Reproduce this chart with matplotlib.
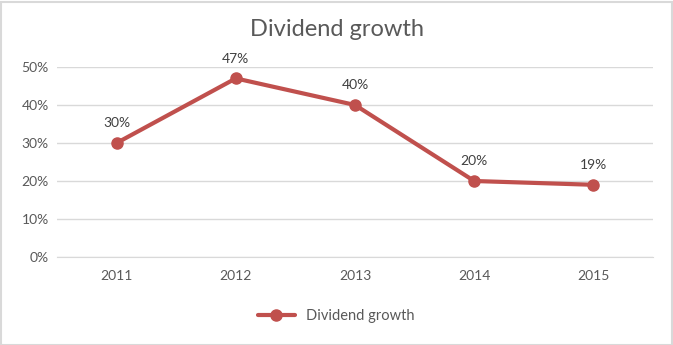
import matplotlib
matplotlib.use("Agg")
import matplotlib.pyplot as plt
from matplotlib.ticker import FuncFormatter

years = ["2011", "2012", "2013", "2014", "2015"]
growth = [30, 47, 40, 20, 19]
yticks = [0, 10, 20, 30, 40, 50]
series_name = "Dividend growth"
title = "Dividend growth"

plt.rcParams['font.family'] = ['Lato', 'DejaVu Sans']

fig = plt.figure(figsize=(6.73, 3.45), dpi=100)
fig.patch.set_facecolor('white')
ax = fig.add_axes([57/673, 88/345, (653-57)/673, (278-88)/345])

color = '#C0504D'
x = list(range(len(years)))
ax.plot(x, growth, color=color, linewidth=3, marker='o', markersize=8,
        label=series_name, solid_capstyle='round', zorder=3)
for xi, v in zip(x, growth):
    ax.annotate(f"{v}%", (xi, v), xytext=(0, 10), textcoords='offset points',
                ha='center', va='bottom', fontsize=10, color='#404040')

ax.set_xlim(-0.5, len(years) - 0.5)
ax.set_ylim(0, 50)
ax.set_yticks(yticks)
ax.yaxis.set_major_formatter(FuncFormatter(lambda v, p: f"{int(v)}%"))
ax.set_xticks(x)
ax.set_xticklabels(years)
ax.grid(axis='y', color='#D9D9D9', linewidth=1)
ax.set_axisbelow(True)
for s in ax.spines.values():
    s.set_visible(False)
ax.spines['bottom'].set_visible(True)
ax.spines['bottom'].set_color('#D9D9D9')
ax.tick_params(axis='both', length=0, labelsize=10, labelcolor='#595959')
ax.tick_params(axis='x', pad=9)
ax.tick_params(axis='y', pad=6)

fig.text(0.5, 1 - 29/345, title, ha='center', va='center', fontsize=17, color='#595959')

leg = fig.legend(loc='center', bbox_to_anchor=(0.5, 1 - 316/345), frameon=False,
                 fontsize=10.5, labelcolor='#595959', handlelength=2.5)

border = plt.Rectangle((0.5/673, 0.5/345), 1 - 2/673, 1 - 2/345, transform=fig.transFigure,
                       fill=False, edgecolor='#D9D9D9', linewidth=1.5)
fig.patches.append(border)

fig.savefig("out.png", dpi=100)
